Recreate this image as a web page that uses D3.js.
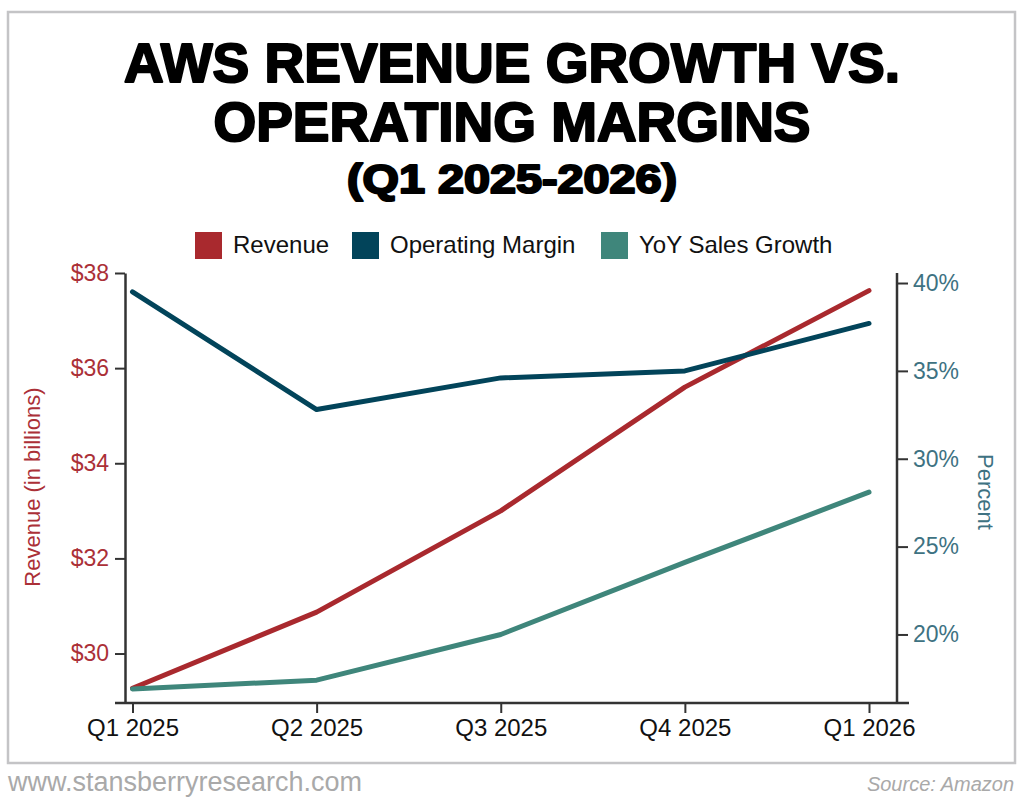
<!DOCTYPE html>
<html>
<head>
<meta charset="utf-8">
<script src="https://cdn.jsdelivr.net/npm/d3@7"></script>
<style>
  body { margin: 0; background: #fff; }
</style>
</head>
<body>
<script>
// chart data
var quarters = ['Q1 2025', 'Q2 2025', 'Q3 2025', 'Q4 2025', 'Q1 2026'];
var revenue = [29.27, 30.87, 33.0, 35.6, 37.63];        // $ billions
var opMargin = [39.5, 32.8, 34.6, 35.0, 37.7];          // percent
var yoyGrowth = [16.9, 17.4, 20.0, 24.1, 28.1];         // percent
var revTicks = [30, 32, 34, 36, 38];
var pctTicks = [20, 25, 30, 35, 40];
var legendNames = ['Revenue', 'Operating Margin', 'YoY Sales Growth'];

var width = 1024, height = 801;
var red = '#a9292e', navy = '#02445a', teal = '#3f867b';

var svg = d3.select('body').append('svg')
  .attr('width', width)
  .attr('height', height);

svg.append('rect')
  .attr('x', 8).attr('y', 12)
  .attr('width', 1007).attr('height', 751)
  .attr('fill', '#fff')
  .attr('stroke', '#c4c4c6')
  .attr('stroke-width', 2.5);

// title
var titleFont = '"Liberation Sans Narrow", "Liberation Sans", sans-serif';
var titleLines = [
  {t: 'AWS REVENUE GROWTH VS.', y: 82, size: 56, len: 776},
  {t: 'OPERATING MARGINS', y: 141, size: 56, len: 597},
  {t: '(Q1 2025-2026)', y: 193, size: 40, len: 330}
];
svg.selectAll('text.title')
  .data(titleLines)
  .enter().append('text')
  .attr('class', 'title')
  .attr('x', 512)
  .attr('y', function(d) { return d.y; })
  .attr('text-anchor', 'middle')
  .attr('font-family', titleFont)
  .attr('font-weight', 'bold')
  .attr('font-size', function(d) { return d.size; })
  .attr('textLength', function(d) { return d.len; })
  .attr('lengthAdjust', 'spacingAndGlyphs')
  .attr('stroke', '#000')
  .attr('stroke-width', 2.2)
  .attr('stroke-linejoin', 'round')
  .text(function(d) { return d.t; });

// legend
var legendX = [195, 352, 601];
var legendColors = [red, navy, teal];
var lg = svg.selectAll('g.legend')
  .data(legendNames)
  .enter().append('g')
  .attr('class', 'legend')
  .attr('transform', function(d, i) { return 'translate(' + legendX[i] + ',232)'; });
lg.append('rect')
  .attr('width', 27).attr('height', 27)
  .attr('fill', function(d, i) { return legendColors[i]; });
lg.append('text')
  .attr('x', 38).attr('y', 21)
  .attr('font-family', '"Liberation Sans Narrow", sans-serif')
  .attr('font-size', 24)
  .attr('fill', '#111')
  .text(function(d) { return d; });

// scales
var plotLeft = 125, plotRight = 897, plotTop = 273, plotBottom = 703;
var x = d3.scalePoint().domain(quarters).range([132.5, 869]);
var yRev = d3.scaleLinear().domain([28.96, 38]).range([plotBottom, plotTop]);
var yPct = d3.scaleLinear().domain([16.1, 40.57]).range([plotBottom, plotTop]);

// left axis
var leftAxis = svg.append('g')
  .attr('transform', 'translate(' + plotLeft + ',0)')
  .call(d3.axisLeft(yRev).tickValues(revTicks).tickSize(10).tickSizeOuter(0).tickPadding(6)
    .tickFormat(function(d) { return '$' + d; }));
leftAxis.selectAll('text')
  .attr('font-family', '"Liberation Sans", sans-serif')
  .attr('font-size', 23)
  .attr('fill', '#ab3037');

// right axis
var rightAxis = svg.append('g')
  .attr('transform', 'translate(' + plotRight + ',0)')
  .call(d3.axisRight(yPct).tickValues(pctTicks).tickSize(11).tickSizeOuter(0).tickPadding(5)
    .tickFormat(function(d) { return d + '%'; }));
rightAxis.select('.domain').attr('d', 'M0,' + plotTop + 'V' + plotBottom);
rightAxis.selectAll('text')
  .attr('font-family', '"Liberation Sans", sans-serif')
  .attr('font-size', 23)
  .attr('fill', '#3e7282');

// bottom axis
var bottomAxis = svg.append('g')
  .attr('transform', 'translate(0,' + plotBottom + ')')
  .call(d3.axisBottom(x).tickSize(10).tickSizeOuter(0).tickPadding(6));
bottomAxis.select('.domain').remove();
bottomAxis.append('line')
  .attr('x1', 115).attr('x2', 909)
  .attr('stroke', '#333').attr('stroke-width', 2.5);
bottomAxis.selectAll('text')
  .attr('font-family', '"Liberation Sans Narrow", sans-serif')
  .attr('font-size', 24)
  .attr('fill', '#111');

svg.selectAll('.domain').attr('stroke', '#333').attr('stroke-width', 2.5);
svg.selectAll('.tick line').attr('stroke', '#333').attr('stroke-width', 2);

// axis titles
svg.append('text')
  .attr('transform', 'translate(40,487) rotate(-90)')
  .attr('text-anchor', 'middle')
  .attr('font-family', '"Liberation Sans", sans-serif')
  .attr('font-size', 22)
  .attr('fill', '#ab3037')
  .text('Revenue (in billions)');
svg.append('text')
  .attr('transform', 'translate(978,492) rotate(90)')
  .attr('text-anchor', 'middle')
  .attr('font-family', '"Liberation Sans", sans-serif')
  .attr('font-size', 22)
  .attr('fill', '#3e7282')
  .text('Percent');

// lines
var series = [
  {vals: revenue, y: yRev, color: red},
  {vals: yoyGrowth, y: yPct, color: teal},
  {vals: opMargin, y: yPct, color: navy}
];
series.forEach(function(s) {
  var line = d3.line()
    .x(function(d, i) { return x(quarters[i]); })
    .y(function(d) { return s.y(d); });
  svg.append('path')
    .datum(s.vals)
    .attr('d', line)
    .attr('fill', 'none')
    .attr('stroke', s.color)
    .attr('stroke-width', 5)
    .attr('stroke-linejoin', 'round')
    .attr('stroke-linecap', 'round');
});

// footer
svg.append('text')
  .attr('x', 8).attr('y', 791)
  .attr('font-family', '"Liberation Sans Narrow", sans-serif')
  .attr('font-size', 27)
  .attr('fill', '#a9a9a9')
  .text('www.stansberryresearch.com');
svg.append('text')
  .attr('x', 1014).attr('y', 791)
  .attr('text-anchor', 'end')
  .attr('font-family', '"Liberation Sans Narrow", sans-serif')
  .attr('font-style', 'italic')
  .attr('font-size', 20)
  .attr('fill', '#a9a9a9')
  .text('Source: Amazon');
</script>
</body>
</html>
